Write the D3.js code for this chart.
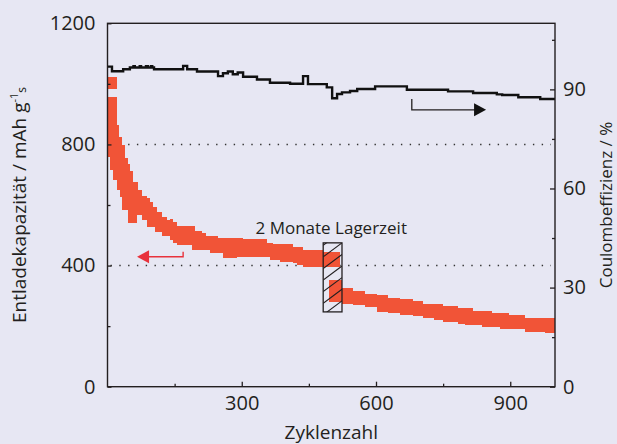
<!DOCTYPE html>
<html>
<head>
<meta charset="utf-8">
<script src="https://cdnjs.cloudflare.com/ajax/libs/d3/7.8.5/d3.min.js"></script>
<style>
  html, body { margin: 0; padding: 0; background: #e7e7f3; }
  svg { display: block; font-family: "Open Sans", "Noto Sans", sans-serif; }
</style>
</head>
<body>
<div id="chart"></div>
<script>
// Entladekapazitaet: jeder Block = Zyklusbereich mit oberem/unterem Wert (mAh/g)
const cycleStart = [1, 1, 6, 12, 21, 26, 28, 33, 39, 46, 51, 57, 66, 68, 77, 88, 95, 102, 106, 111, 122, 133, 140, 147, 156, 189, 195, 211, 220, 229, 247, 259, 289, 303, 357, 364, 370, 385, 414, 424, 437, 482, 496, 524, 549, 576, 603, 627, 654, 683, 706, 730, 750, 784, 799, 817, 837, 859, 877, 898, 934, 978];
const cycleEnd   = [21, 6, 12, 21, 26, 28, 33, 39, 46, 51, 57, 66, 68, 77, 88, 95, 102, 106, 111, 122, 133, 140, 147, 156, 189, 195, 211, 220, 229, 247, 259, 289, 303, 357, 364, 370, 385, 414, 424, 437, 482, 519, 524, 549, 576, 603, 627, 654, 683, 706, 730, 750, 784, 799, 817, 837, 859, 877, 898, 934, 978, 1000];
const capMax     = [1024, 958, 958, 958, 865, 825, 825, 799, 756, 736, 713, 677, 677, 650, 630, 624, 611, 595, 595, 578, 561, 551, 554, 544, 531, 531, 515, 508, 498, 498, 492, 492, 492, 488, 475, 475, 472, 472, 462, 462, 452, 445, 352, 326, 316, 306, 303, 293, 290, 283, 273, 273, 267, 260, 260, 250, 250, 244, 244, 237, 227, 227];
const capMin     = [984, 760, 716, 683, 650, 650, 627, 585, 585, 541, 541, 541, 568, 568, 551, 528, 528, 528, 511, 511, 498, 498, 485, 475, 468, 452, 452, 452, 452, 442, 442, 425, 429, 429, 429, 419, 419, 412, 409, 402, 396, 396, 280, 273, 270, 263, 247, 244, 237, 235, 227, 220, 214, 207, 204, 204, 197, 197, 191, 191, 181, 177];

// Coulombeffizienz (%)
const effCycle = [0, 10, 35, 50, 58, 61, 72, 75, 86, 90, 97, 100, 104, 169, 178, 200, 247, 258, 269, 280, 291, 303, 334, 363, 408, 437, 448, 490, 502, 513, 524, 542, 558, 598, 669, 761, 817, 870, 882, 918, 967, 1000];
const effValue = [96.9, 95.5, 96.1, 96.6, 97.0, 96.6, 97.0, 96.6, 97.0, 96.6, 97.0, 96.6, 96.1, 97.1, 96.1, 95.4, 94.0, 94.9, 95.4, 94.6, 95.1, 93.8, 93.0, 92.0, 91.7, 94.0, 91.6, 90.6, 87.3, 88.6, 89.1, 89.5, 90.1, 90.9, 89.9, 89.4, 88.9, 88.5, 88.3, 87.6, 87.1, 87.1];

const xTicks = [300, 600, 900], xMinor = [150, 450, 750];
const capTicks = [0, 400, 800, 1200], capMinor = [200, 600, 1000];
const effTicks = [0, 30, 60, 90], effMinor = [15, 45, 75, 105];
const gridCaps = [400, 800];

// Lagerzeit (2 Monate) und Pfeile
const storage = { from: 482, to: 524, capTop: 475, capBottom: 247, label: "2 Monate Lagerzeit", labelCycle: 500, labelCap: 505 };
const capArrow = { tip: 66, tail: 169, cap: 429, tickCap: 446 };
const effArrow = { tail: 680, tip: 846, eff: 83.8, tickEff: 87.1 };

const width = 617, height = 444;
const margin = { top: 23.3, right: 62, bottom: 57.3, left: 107.5 };

const svg = d3.select("#chart").append("svg")
  .attr("width", width).attr("height", height);

svg.append("rect").attr("width", width).attr("height", height).attr("fill", "#e7e7f3");

const x = d3.scaleLinear().domain([0, 1000]).range([margin.left, width - margin.right]);
const yCap = d3.scaleLinear().domain([0, 1200]).range([height - margin.bottom, margin.top]);
const yEff = d3.scaleLinear().domain([0, 110]).range([height - margin.bottom, margin.top]);

const ink = "#231f20";

// gepunktete Hilfslinien
svg.append("g").selectAll("line").data(gridCaps).join("line")
  .attr("x1", x(0) + 3).attr("x2", x(1000) - 4)
  .attr("y1", d => yCap(d)).attr("y2", d => yCap(d))
  .attr("stroke", "#333").attr("stroke-width", 1.4)
  .attr("stroke-dasharray", "1.4 7.4");

// Kapazitaet als Bloecke
const blocks = cycleStart.map((c, i) => ({ c0: c, c1: cycleEnd[i], hi: capMax[i], lo: capMin[i] }));
svg.append("g").selectAll("rect").data(blocks).join("rect")
  .attr("x", d => x(d.c0))
  .attr("width", d => x(d.c1) - x(d.c0))
  .attr("y", d => yCap(d.hi))
  .attr("height", d => yCap(d.lo) - yCap(d.hi))
  .attr("fill", "#f15437")
  .attr("shape-rendering", "crispEdges");

// Coulombeffizienz
const effLine = d3.line().curve(d3.curveStepAfter)
  .x((d, i) => x(effCycle[i])).y(d => yEff(d));
svg.append("path").datum(effValue)
  .attr("d", effLine)
  .attr("fill", "none").attr("stroke", "#111").attr("stroke-width", 2.4);

// Lagerzeit-Kasten mit Schraffur
const bx0 = x(storage.from), bx1 = x(storage.to);
const by0 = yCap(storage.capTop), by1 = yCap(storage.capBottom);
svg.append("clipPath").attr("id", "boxclip")
  .append("rect").attr("x", bx0).attr("y", by0).attr("width", bx1 - bx0).attr("height", by1 - by0);
const hatch = svg.append("g").attr("clip-path", "url(#boxclip)");
d3.range(-2, 9).forEach(k => {
  const yy = by0 + k * 11.6;
  hatch.append("line")
    .attr("x1", bx0).attr("y1", yy + 14)
    .attr("x2", bx1).attr("y2", yy)
    .attr("stroke", ink).attr("stroke-width", 1.1);
});
svg.append("rect")
  .attr("x", bx0).attr("y", by0).attr("width", bx1 - bx0).attr("height", by1 - by0)
  .attr("fill", "none").attr("stroke", ink).attr("stroke-width", 1.3);

svg.append("text")
  .attr("x", x(storage.labelCycle)).attr("y", yCap(storage.labelCap))
  .attr("text-anchor", "middle").attr("font-size", 17).attr("fill", ink)
  .text(storage.label);

// Pfeile
function arrowHead(tipX, tipY, dir, color) {
  svg.append("path")
    .attr("d", `M${tipX},${tipY} L${tipX - dir * 12},${tipY - 6.5} L${tipX - dir * 12},${tipY + 6.5} Z`)
    .attr("fill", color);
}
const red = "#e8323c";
svg.append("path")
  .attr("d", `M${x(capArrow.tip) + 8},${yCap(capArrow.cap)} H${x(capArrow.tail)} V${yCap(capArrow.tickCap)}`)
  .attr("fill", "none").attr("stroke", red).attr("stroke-width", 1.4);
arrowHead(x(capArrow.tip), yCap(capArrow.cap), -1, red);

svg.append("path")
  .attr("d", `M${x(effArrow.tail)},${yEff(effArrow.tickEff)} V${yEff(effArrow.eff)} H${x(effArrow.tip) - 8}`)
  .attr("fill", "none").attr("stroke", ink).attr("stroke-width", 1.3);
arrowHead(x(effArrow.tip), yEff(effArrow.eff), 1, "#111");

// Achsen
function styleAxis(g) {
  g.select(".domain").remove();
  g.selectAll("line").attr("stroke", ink).attr("stroke-width", 1.3);
  g.selectAll("text").attr("fill", ink).attr("font-size", 20)
    .attr("font-family", "'Open Sans', 'Noto Sans', sans-serif");
}
const bottom = height - margin.bottom;
svg.append("g").attr("transform", `translate(0,${bottom})`)
  .call(d3.axisBottom(x).tickValues(xTicks).tickSize(-5).tickPadding(9).tickFormat(d3.format("d")))
  .call(styleAxis);
svg.append("g").attr("transform", `translate(0,${bottom})`)
  .call(d3.axisBottom(x).tickValues(xMinor).tickSize(-3).tickFormat(""))
  .call(styleAxis);

svg.append("g").attr("transform", `translate(${margin.left},0)`)
  .call(d3.axisLeft(yCap).tickValues(capTicks).tickSize(-4).tickPadding(12).tickFormat(d3.format("d")))
  .call(styleAxis);
svg.append("g").attr("transform", `translate(${margin.left},0)`)
  .call(d3.axisLeft(yCap).tickValues(capMinor).tickSize(-3).tickFormat(""))
  .call(styleAxis);

svg.append("g").attr("transform", `translate(${width - margin.right},0)`)
  .call(d3.axisRight(yEff).tickValues(effTicks).tickSize(-5).tickPadding(8).tickFormat(d3.format("d")))
  .call(styleAxis);
svg.append("g").attr("transform", `translate(${width - margin.right},0)`)
  .call(d3.axisRight(yEff).tickValues(effMinor).tickSize(-3).tickFormat(""))
  .call(styleAxis);

// Rahmen
svg.append("rect")
  .attr("x", margin.left).attr("y", margin.top)
  .attr("width", width - margin.left - margin.right)
  .attr("height", height - margin.top - margin.bottom)
  .attr("fill", "none").attr("stroke", ink).attr("stroke-width", 1.4);

// Achsentitel
svg.append("text")
  .attr("x", (margin.left + width - margin.right) / 2).attr("y", 439)
  .attr("text-anchor", "middle").attr("font-size", 19).attr("fill", ink)
  .text("Zyklenzahl");

const yl = svg.append("text")
  .attr("transform", `translate(26,${(margin.top + bottom) / 2}) rotate(-90)`)
  .attr("text-anchor", "middle").attr("font-size", 19).attr("fill", ink);
yl.append("tspan").text("Entladekapazität / mAh g");
yl.append("tspan").attr("font-size", 11).attr("dy", -8).text("-1");
yl.append("tspan").attr("font-size", 12).attr("dy", 8).text("s");

svg.append("text")
  .attr("transform", `translate(612,${(margin.top + bottom) / 2}) rotate(-90)`)
  .attr("text-anchor", "middle").attr("font-size", 17).attr("fill", ink)
  .text("Coulombeffizienz / %");
</script>
</body>
</html>
